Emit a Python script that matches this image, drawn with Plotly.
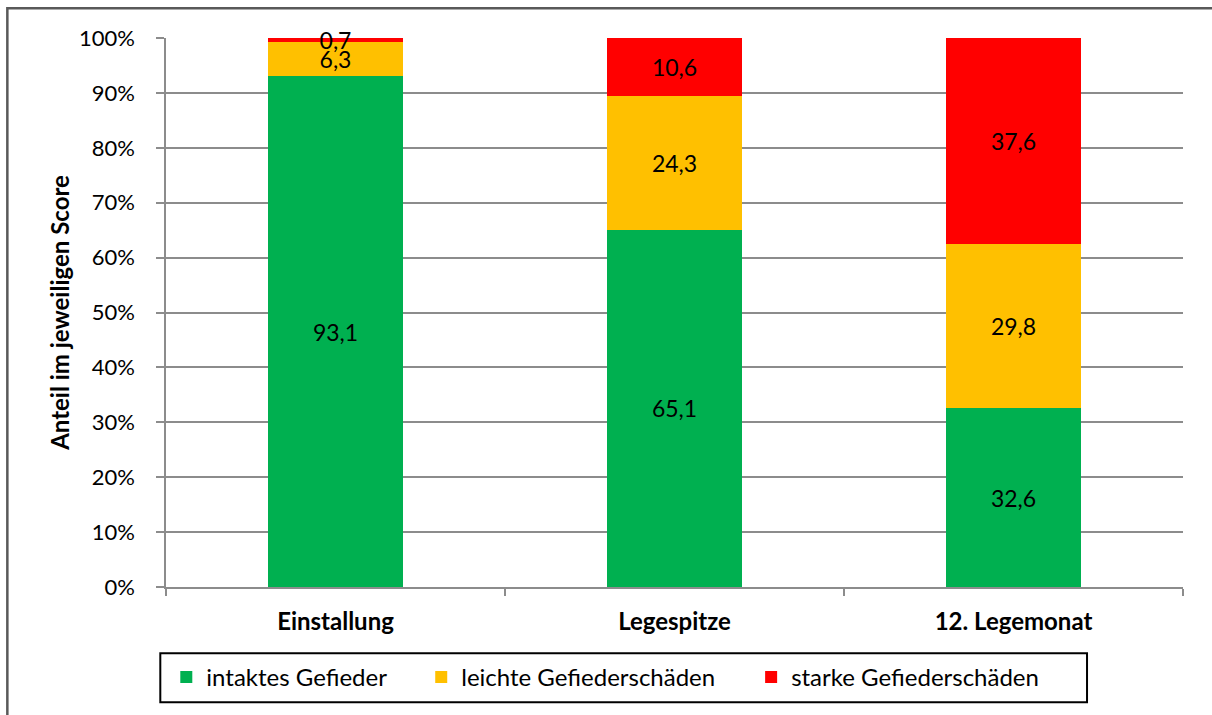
import plotly.graph_objects as go

# Gefiederzustand je Erhebungszeitpunkt (Anteile in %)
zeitpunkte = ["Einstallung", "Legespitze", "12. Legemonat"]
intakt = [93.1, 65.1, 32.6]
leicht = [6.3, 24.3, 29.8]
stark = [0.7, 10.6, 37.6]

y_ticks = list(range(0, 101, 10))
y_ticktext = [f"{v}%" for v in y_ticks]

serien = [
    ("intaktes Gefieder", intakt, "#00B050", "legend"),
    ("leichte Gefiederschäden", leicht, "#FFC000", "legend2"),
    ("starke Gefiederschäden", stark, "#FF0000", "legend3"),
]

FONT = "Lato"


def komma(v):
    return f"{v:.1f}".replace(".", ",")


fig = go.Figure()
for name, werte, farbe, leg in serien:
    fig.add_trace(go.Bar(
        x=zeitpunkte,
        y=werte,
        name=name,
        marker=dict(color=farbe, line=dict(width=0)),
        text=[komma(v) for v in werte],
        textposition="inside",
        insidetextanchor="middle",
        constraintext="none",
        cliponaxis=False,
        textfont=dict(family=FONT, size=23, color="black"),
        hoverinfo="skip",
        legend=leg,
    ))

# Plotbereich in Pixeln -> Papierkoordinaten
L, R, T, B = 165.7, 1183.0, 37.7, 586.7
W, H = R - L, B - T


def px(x):
    return (x - L) / W


def py(y):
    return (B - y) / H


leg_common = dict(
    orientation="h",
    yanchor="middle",
    xanchor="left",
    bgcolor="rgba(0,0,0,0)",
    borderwidth=0,
    font=dict(family=FONT, size=24, color="black"),
    itemwidth=30,
)

GRAU = "#8C8C8C"

fig.update_layout(
    width=1212,
    height=715,
    margin=dict(l=L, r=1212 - R, t=T, b=715 - B),
    paper_bgcolor="white",
    plot_bgcolor="white",
    barmode="stack",
    barnorm="percent",
    bargap=0.6,
    font=dict(family=FONT, size=22, color="black"),
    showlegend=True,
    legend=dict(leg_common, x=px(166), y=py(677)),
    legend2=dict(leg_common, x=px(421), y=py(677)),
    legend3=dict(leg_common, x=px(751), y=py(677)),
    xaxis=dict(
        type="category",
        showline=True,
        linecolor=GRAU,
        linewidth=1.5,
        ticks="outside",
        tickson="boundaries",
        ticklen=7,
        tickcolor=GRAU,
        tickwidth=1.5,
        tickfont=dict(family=FONT, size=24, color="black", weight="bold"),
        ticklabelstandoff=12,
        showgrid=False,
    ),
    yaxis=dict(
        range=[0, 100],
        tickmode="array",
        tickvals=y_ticks,
        ticktext=y_ticktext,
        showline=True,
        linecolor=GRAU,
        linewidth=1.5,
        ticks="outside",
        ticklen=8,
        tickcolor=GRAU,
        tickwidth=1.5,
        showgrid=True,
        gridcolor=GRAU,
        gridwidth=1.5,
        tickfont=dict(family=FONT, size=22, color="black"),
        ticklabelstandoff=17,
        title=dict(
            text="Anteil im jeweiligen Score",
            font=dict(family=FONT, size=24, color="black", weight="bold"),
            standoff=3,
        ),
        zeroline=False,
    ),
    shapes=[
        # äußerer Diagrammrahmen
        dict(type="rect", xref="paper", yref="paper",
             x0=px(7), x1=px(1230), y0=py(730), y1=py(8),
             line=dict(color="#595959", width=2.5), fillcolor="rgba(0,0,0,0)",
             layer="below"),
        # Legendenrahmen
        dict(type="rect", xref="paper", yref="paper",
             x0=px(160), x1=px(1087), y0=py(702), y1=py(653),
             line=dict(color="black", width=2), fillcolor="rgba(0,0,0,0)"),
    ],
)

fig.write_html("out.html")
